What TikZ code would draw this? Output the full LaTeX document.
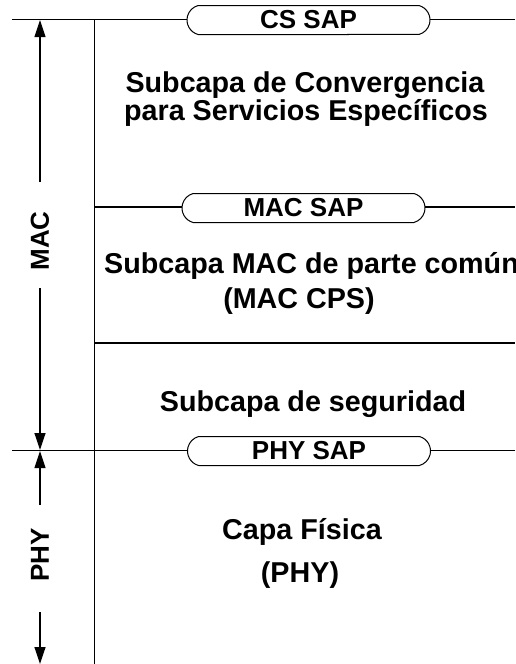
\documentclass[tikz,border=0pt]{standalone}
\usepackage{fontspec}
\setmainfont{Liberation Sans}
\usetikzlibrary{arrows.meta,shapes.misc}
\tikzset{
  x=1pt,y=-1pt,
  rule/.style={line width=1.2pt,draw=black},
  sap/.style={rounded rectangle,rounded rectangle arc length=150,draw=black,line width=1pt,fill=white,
    minimum width=243pt,minimum height=29pt,inner sep=0pt,
    font=\bfseries\fontsize{26}{30}\selectfont},
  body/.style={anchor=base,inner sep=0pt,font=\bfseries\fontsize{28.7}{34}\selectfont},
  side/.style={rotate=90,inner sep=0pt,font=\bfseries\fontsize{26}{30}\selectfont},
  dim/.style={line width=1.2pt,-{Triangle[length=17pt,width=11pt]}},
}
\begin{document}
\begin{tikzpicture}
\useasboundingbox (0,0) rectangle (515,664);
\clip (0,0) rectangle (515,664);
% frame lines
\coordinate (tl) at (12,19.5);   \coordinate (tr) at (515,19.5);
\coordinate (ml) at (94.5,207);  \coordinate (mr) at (515,207);
\coordinate (sl) at (94.5,343);  \coordinate (sr) at (515,343);
\coordinate (pl) at (12,450.5);  \coordinate (pr) at (515,450.5);
\coordinate (vt) at (94.5,19.5); \coordinate (vb) at (94.5,664);
\draw[rule] (tl) -- (tr);
\draw[rule] (ml) -- (mr);
\draw[rule] (sl) -- (sr);
\draw[rule] (pl) -- (pr);
\draw[rule] (vt) -- (vb);
% SAP capsules
\node[sap] (cssap) at (308.5,20) {CS SAP};
\node[sap] (macsap) at (303.5,208) {MAC SAP};
\node[sap] (physap) at (309,451) {PHY SAP};
% layer texts
\node[body] (cs1) at (305,92) {Subcapa de Convergencia};
\node[body] (cs2) at (306,120) {para Servicios Específicos};
\node[body] (cps1) at (311.5,273) {Subcapa MAC de parte común};
\node[body] (cps2) at (299,308) {(MAC CPS)};
\node[body] (sec) at (313,411) {Subcapa de seguridad};
\node[body] (phy1) at (302,539) {Capa Física};
\node[body] (phy2) at (300,582) {(PHY)};
% side dimension labels
\node[side] (maclab) at (40,241) {MAC};
\node[side] (phylab) at (40,555) {PHY};
\coordinate (macA) at (40,182);  \coordinate (macAt) at (40,20);
\coordinate (macB) at (40,288);  \coordinate (macBt) at (40,450);
\coordinate (phyA) at (40,505);  \coordinate (phyAt) at (40,451);
\coordinate (phyB) at (40,612);  \coordinate (phyBt) at (40,664);
\draw[dim] (macA) -- (macAt);
\draw[dim] (macB) -- (macBt);
\draw[dim] (phyA) -- (phyAt);
\draw[dim] (phyB) -- (phyBt);
\end{tikzpicture}
\end{document}
